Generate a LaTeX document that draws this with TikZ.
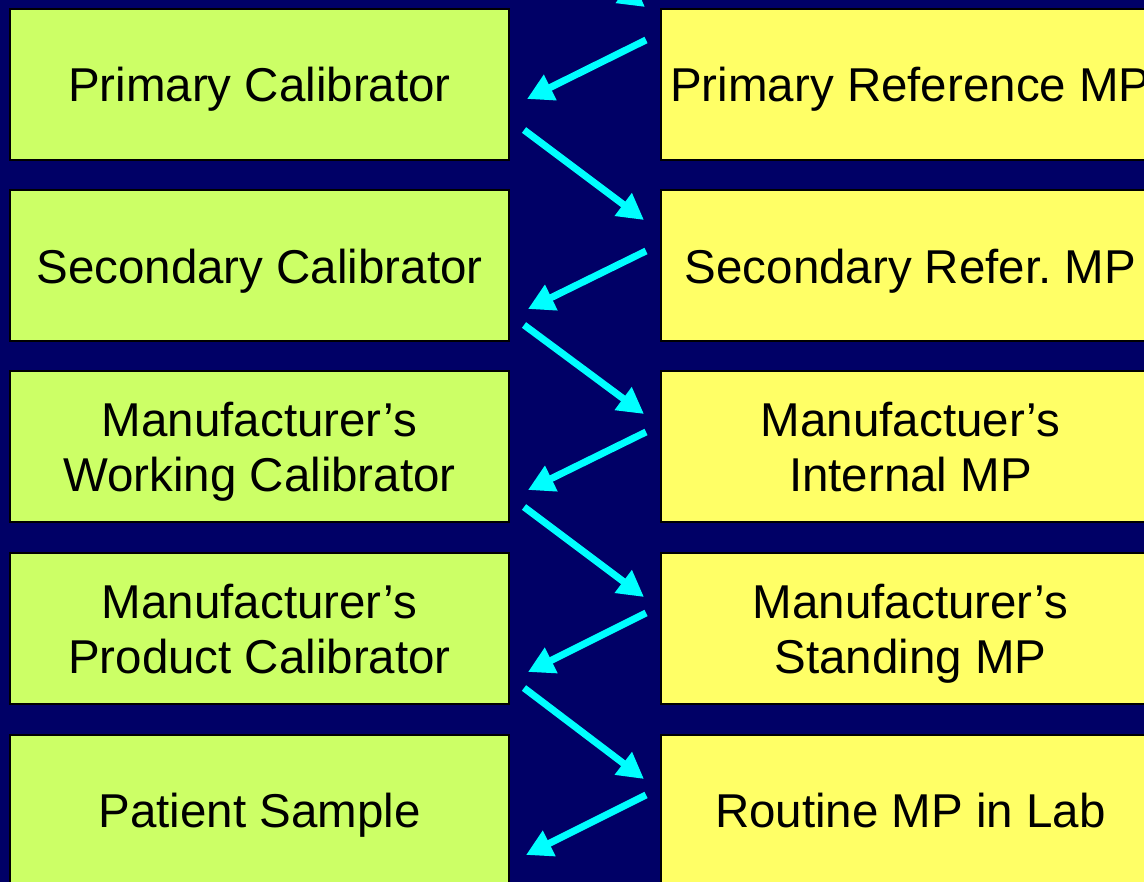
\documentclass[tikz,border=0pt]{standalone}
\usepackage{fontspec}
\setmainfont{Liberation Sans}
\usetikzlibrary{arrows.meta}

\definecolor{navybg}{HTML}{000066}
\definecolor{calgreen}{HTML}{CCFF66}
\definecolor{mpyellow}{HTML}{FFFF66}
\definecolor{flowcyan}{HTML}{00FFFF}

\tikzset{
  calbox/.style={draw=black,line width=2pt,fill=calgreen,minimum width=499pt,minimum height=151pt,
    align=center,inner sep=0pt,text depth=0pt,font=\fontsize{47.5}{55}\selectfont},
  mpbox/.style={calbox,fill=mpyellow},
  flow/.style={flowcyan,line width=7pt,-{Triangle[length=26pt,width=27pt]}}
}

\begin{document}
\begin{tikzpicture}[x=1pt,y=-1pt]
    \useasboundingbox (0,0) rectangle (1144,882);
    \clip (0,0) rectangle (1144,882);
    \fill[navybg] (0,0) rectangle (1144,882);

    % calibrators
    \node[calbox] (l1) at (259.5,84.5) {Primary Calibrator};
    \node[calbox] (l2) at (259.5,266) {Secondary Calibrator};
    \node[calbox] (l3) at (259.5,447) {Manufacturer’s\\Working Calibrator};
    \node[calbox] (l4) at (259.5,628.5) {Manufacturer’s\\Product Calibrator};
    \node[calbox] (l5) at (259.5,810) {Patient Sample};

    % measurement procedures
    \node[mpbox] (r1) at (910.5,84.5) {Primary Reference MP};
    \node[mpbox] (r2) at (910.5,266) {Secondary Refer.\ MP};
    \node[mpbox] (r3) at (910.5,447) {Manufactuer’s\\Internal MP};
    \node[mpbox] (r4) at (910.5,628.5) {Manufacturer’s\\Standing MP};
    \node[mpbox] (r5) at (910.5,810) {Routine MP in Lab};

    \coordinate (top) at (524,-83);
    \draw[flow] (top) -- ([xshift=-15pt,yshift=77.5pt]r1.west);

    \draw[flow] ([xshift=-14pt,yshift=44.5pt]r1.west) -- ([xshift=17pt,yshift=-14.5pt]l1.east);
    \draw[flow] ([xshift=-14pt,yshift=15pt]r2.west) -- ([xshift=18pt,yshift=-43pt]l2.east);
    \draw[flow] ([xshift=-14pt,yshift=15pt]r3.west) -- ([xshift=18pt,yshift=-43pt]l3.east);
    \draw[flow] ([xshift=-14pt,yshift=15.5pt]r4.west) -- ([xshift=18pt,yshift=-43.5pt]l4.east);
    \draw[flow] ([xshift=-14pt,yshift=15pt]r5.west) -- ([xshift=16pt,yshift=-45pt]l5.east);

    \draw[flow] ([xshift=14pt,yshift=-45.5pt]l1.east) -- ([xshift=-16pt,yshift=46pt]r2.west);
    \draw[flow] ([xshift=14pt,yshift=-59pt]l2.east) -- ([xshift=-16pt,yshift=33pt]r3.west);
    \draw[flow] ([xshift=14pt,yshift=-60pt]l3.east) -- ([xshift=-16pt,yshift=31.5pt]r4.west);
    \draw[flow] ([xshift=14pt,yshift=-59.5pt]l4.east) -- ([xshift=-16pt,yshift=31pt]r5.west);
  \end{tikzpicture}
\end{document}
